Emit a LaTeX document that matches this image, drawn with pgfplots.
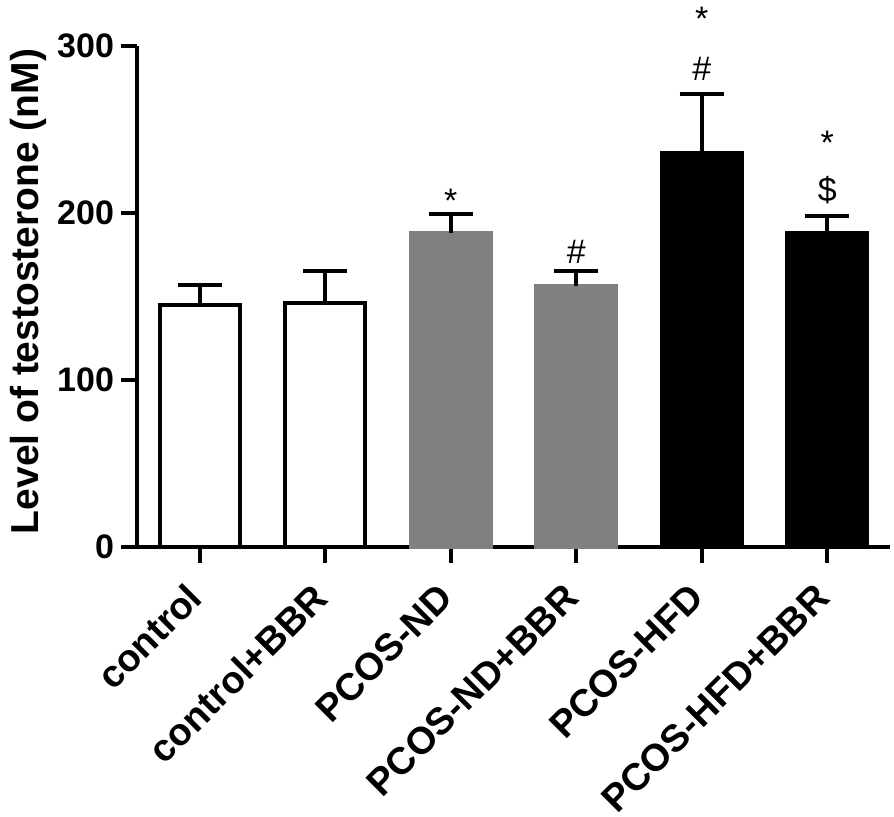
\documentclass[border=0pt]{standalone}
\usepackage{fontspec}
\setmainfont{Liberation Sans}
\usepackage{pgfplots}
\pgfplotsset{compat=1.18}
\begin{document}
\begin{tikzpicture}
\useasboundingbox (0,0) rectangle (447pt,408.5pt);
\begin{axis}[
  at={(68.5pt,135pt)}, anchor=south west,
  scale only axis, width=376.5pt, height=250.5pt,
  xmin=-0.5, xmax=5.5, ymin=0, ymax=300,
  axis x line*=bottom, axis y line*=left,
  axis line style={-, line width=2pt, black},
  xtick={0,1,2,3,4,5}, ytick={0,100,200,300},
  tick align=outside, major tick length=8pt,
  tick style={line width=2pt, black},
  xticklabels={control,control+BBR,PCOS-ND,PCOS-ND+BBR,PCOS-HFD,PCOS-HFD+BBR},
  xticklabel shift=11.5pt,
  xticklabel style={rotate=45, anchor=east, font=\bfseries\fontsize{19}{22}\selectfont},
  yticklabel style={font=\bfseries\fontsize{17}{20}\selectfont},
  /pgf/number format/assume math mode=true,
  ylabel={Level of testosterone (nM)},
  ylabel style={font=\bfseries\fontsize{19.5}{22}\selectfont, at={(axis description cs:-0.144,0.51)}, anchor=center},
  clip=false,
]
\addplot[ybar, bar width=40pt, bar shift=0pt, fill=white, draw=black, line width=2pt,
  error bars/.cd, y dir=plus, y explicit,
  error bar style={line width=2pt, black},
  error mark options={rotate=90, mark size=11pt, line width=2pt, black}]
  coordinates {(0,145) +- (0,12) (1,146) +- (0,19)};
\addplot[ybar, bar width=40pt, bar shift=0pt, fill={rgb,255:red,128;green,128;blue,128}, draw={rgb,255:red,128;green,128;blue,128}, line width=2pt,
  error bars/.cd, y dir=plus, y explicit,
  error bar style={line width=2pt, black},
  error mark options={rotate=90, mark size=11pt, line width=2pt, black}]
  coordinates {(2,188.3) +- (0,11) (3,156.4) +- (0,8.6)};
\addplot[ybar, bar width=40pt, bar shift=0pt, fill=black, draw=black, line width=2pt,
  error bars/.cd, y dir=plus, y explicit,
  error bar style={line width=2pt, black},
  error mark options={rotate=90, mark size=11pt, line width=2pt, black}]
  coordinates {(4,236.2) +- (0,35) (5,188.3) +- (0,9.6)};
\addplot[only marks, mark=none, nodes near coords, point meta=explicit symbolic,
  nodes near coords style={anchor=center, font=\fontsize{17}{20}\selectfont}]
  coordinates {(2,207.4) [*] (3,177) [\#] (4,286.5) [\#] (4,316.5) [*] (5,213.5) [\$] (5,242) [*]};
\end{axis}
\end{tikzpicture}
\end{document}
